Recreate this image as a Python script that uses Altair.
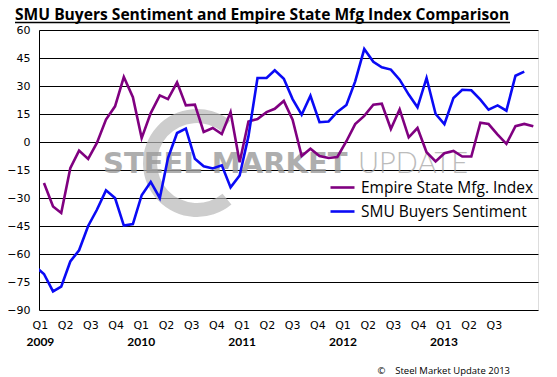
import altair as alt
import pandas as pd

# ---------------- data ----------------
series_names = ["Empire State Mfg. Index", "SMU Buyers Sentiment"]
series_colors = ["#800080", "#0A0AF5"]

# Empire State Mfg. Index, monthly Jan 2009 .. Aug 2013
empire_values = [
    -22.0, -34.5, -38.0, -14.0, -4.6, -9.1, -0.5, 12.0, 19.1, 34.8, 24.0, 2.1,
    15.5, 25.0, 23.0, 32.0, 19.6, 20.0, 5.4, 7.5, 4.3, 16.0, -10.8, 11.0,
    12.3, 16.0, 17.8, 22.0, 12.0, -7.5, -3.6, -7.5, -8.6, -8.0, 0.4, 9.6,
    14.0, 20.0, 20.5, 7.0, 17.5, 2.5, 7.5, -5.5, -10.4, -6.0, -4.8, -7.8,
    -7.8, 10.3, 9.6, 4.0, -1.0, 8.5, 9.7, 8.4,
]
# SMU Buyers Sentiment, monthly Dec 2008 .. Jul 2013
smu_values = [
    -66.5,
    -70.7, -80.0, -77.5, -64.0, -58.0, -45.0, -36.3, -25.9, -30.0, -44.8, -44.0, -28.5,
    -21.4, -30.0, -8.6, 4.8, 7.2, -9.0, -13.0, -14.2, -12.5, -24.3, -17.9, 3.0,
    34.3, 34.3, 38.4, 33.9, 23.0, 14.6, 24.8, 10.6, 11.0, 16.1, 19.8, 32.5,
    49.8, 43.0, 40.0, 38.8, 33.4, 25.4, 18.6, 34.3, 15.0, 9.6, 23.6, 28.0,
    27.7, 22.7, 17.3, 19.6, 16.8, 35.5, 37.7,
]
empire_start = "2009-01-18"
smu_start = "2008-12-18"

y_ticks = [-90, -75, -60, -45, -30, -15, 0, 15, 30, 45, 60]
quarter_names = ["Q1", "Q2", "Q3", "Q4"] * 4 + ["Q1", "Q2", "Q3"]
quarter_years = ["2009"] * 4 + ["2010"] * 4 + ["2011"] * 4 + ["2012"] * 4 + ["2013"] * 3
quarter_keys = [f"{q} {y}" for q, y in zip(quarter_names, quarter_years)]

title_text = ["SMU Buyers Sentiment and Empire State Mfg Index Comparison"]
copyright_text = ["©\u00a0\u00a0\u00a0\u00a0Steel Market Update 2013"]
watermark_bold = ["STEEL MARKET"]
watermark_light = ["UPDATE"]

# ---------------- tables ----------------
empire_dates = pd.date_range(empire_start, periods=len(empire_values), freq=pd.DateOffset(months=1))
smu_dates = pd.date_range(smu_start, periods=len(smu_values), freq=pd.DateOffset(months=1))
df = pd.concat([
    pd.DataFrame({"date": empire_dates.strftime("%Y-%m-%d"), "value": empire_values,
                  "series": series_names[0]}),
    pd.DataFrame({"date": smu_dates.strftime("%Y-%m-%d"), "value": smu_values,
                  "series": series_names[1]}),
], ignore_index=True)
qdf = pd.DataFrame({"key": quarter_keys})

W, H = 499, 280

# ---------------- layers ----------------
ring = alt.Chart(pd.DataFrame({"a": [0]})).mark_arc(color="#B8B8B8", opacity=0.7).encode(
    x=alt.value(158), y=alt.value(133),
    radius=alt.value(54), radius2=alt.value(40),
    theta=alt.value(2.45), theta2=alt.value(6.95),
)
wm1 = alt.Chart(pd.DataFrame({"t": watermark_bold})).mark_text(
    font="DejaVu Sans", fontSize=29, fontWeight="bold", color="#9A9A9A", opacity=0.8,
    align="left", baseline="alphabetic",
).encode(x=alt.value(64), y=alt.value(143), text="t:N")
wm2 = alt.Chart(pd.DataFrame({"t": watermark_light})).mark_text(
    font="Lato", fontSize=29, fontWeight=300, color="#A0A0A0", opacity=0.7,
    align="left", baseline="alphabetic",
).encode(x=alt.value(319), y=alt.value(143), text="t:N")

lines = alt.Chart(df).mark_line(strokeWidth=2.6, clip=True).encode(
    x=alt.X("date:T",
            scale=alt.Scale(type="utc",
                            domain=[alt.DateTime(year=2009, month=1, date=1, utc=True),
                                    alt.DateTime(year=2013, month=9, date=3, utc=True)]),
            axis=None),
    y=alt.Y("value:Q",
            scale=alt.Scale(domain=[-90, 60], nice=False, zero=False),
            axis=alt.Axis(values=y_ticks, grid=True, gridColor="black", gridOpacity=1,
                          gridWidth=1, domain=True, domainColor="black", domainWidth=1,
                          ticks=False, labelFont="DejaVu Sans", labelFontSize=11,
                          labelColor="black", labelPadding=9, title=None)),
    color=alt.Color("series:N",
                    scale=alt.Scale(domain=series_names, range=series_colors),
                    legend=alt.Legend(orient="none", legendX=290, legendY=144, title=None,
                                      symbolType="stroke", symbolSize=576,
                                      symbolStrokeWidth=2.6, labelFont="Open Sans",
                                      labelFontSize=15.5, labelColor="black",
                                      labelLimit=400, labelOffset=5, rowPadding=2,
                                      padding=0)),
)

qaxis = alt.Chart(qdf).mark_point(opacity=0).encode(
    x=alt.X("key:N", sort=quarter_keys,
            scale=alt.Scale(type="point", padding=0.893, align=0.02),
            axis=alt.Axis(orient="bottom", labelExpr="split(datum.label, ' ')[0]",
                          domain=False, ticks=False, grid=False, labelAngle=0,
                          labelOverlap=False, labelFont="DejaVu Sans", labelFontSize=11,
                          labelColor="black", labelPadding=9, title=None)),
)
yaxis = alt.Chart(qdf).mark_point(opacity=0).encode(
    x=alt.X("key:N", sort=quarter_keys,
            scale=alt.Scale(type="point", padding=0.893, align=0.02),
            axis=alt.Axis(orient="bottom",
                          labelExpr="split(datum.label, ' ')[0] == 'Q1' ? split(datum.label, ' ')[1] : ''",
                          domain=False, ticks=False, grid=False, labelAngle=0,
                          labelOverlap=False, labelFont="Lato", labelFontSize=12,
                          labelFontWeight="bold", labelColor="black", labelPadding=9,
                          offset=17, title=None)),
)

title = alt.Chart(pd.DataFrame({"t": title_text})).mark_text(
    font="Open Sans", fontSize=15.6, fontWeight="bold", color="black",
    align="left", baseline="alphabetic",
).encode(x=alt.value(-24), y=alt.value(-10), text="t:N")
underline = alt.Chart(pd.DataFrame({"a": [0]})).mark_rule(color="black", strokeWidth=1.3).encode(
    x=alt.value(-24), x2=alt.value(471), y=alt.value(-7.5),
)
copyright = alt.Chart(pd.DataFrame({"t": copyright_text})).mark_text(
    font="Open Sans", fontSize=9.5, color="black", align="right", baseline="middle",
).encode(x=alt.value(471), y=alt.value(341), text="t:N")

chart = alt.layer(
    ring, wm1, wm2, lines, qaxis, yaxis, title, underline, copyright
).resolve_scale(x="independent").properties(
    width=W, height=H,
    autosize=alt.AutoSizeParams(type="none"),
    padding={"left": 31, "top": 22, "right": 3, "bottom": 66},
).configure_view(stroke="transparent").configure(background="white")

chart.save("out.html", embed_options={"renderer": "svg", "actions": False})
